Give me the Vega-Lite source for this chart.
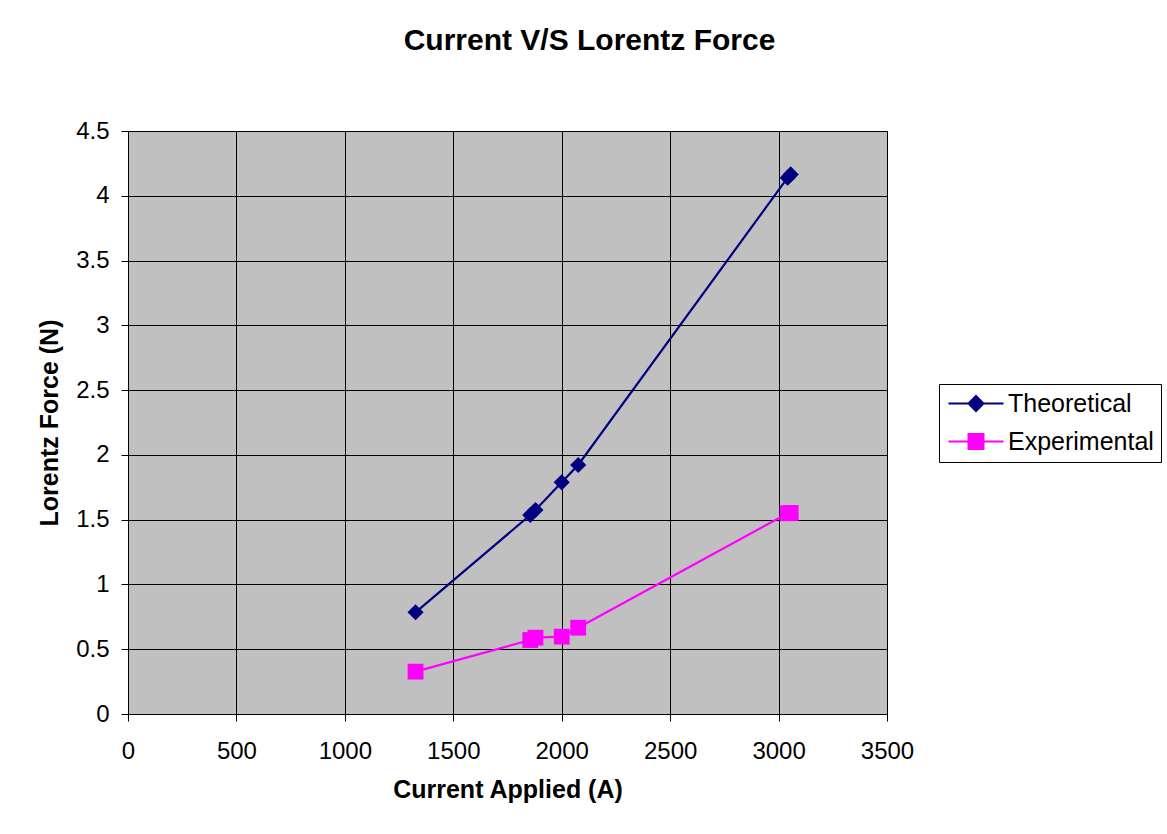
{
  "$schema": "https://vega.github.io/schema/vega-lite/v6.json",
  "width": 759,
  "height": 583,
  "autosize": "none",
  "padding": {"left": 128, "top": 131, "right": 280, "bottom": 120},
  "background": "white",
  "title": {
    "text": "Current V/S Lorentz Force",
    "anchor": "middle",
    "frame": "group",
    "dx": 82,
    "offset": 39,
    "baseline": "alphabetic",
    "font": "Liberation Sans",
    "fontSize": 30,
    "fontWeight": "bold",
    "color": "black"
  },
  "config": {
    "view": {"fill": "#C0C0C0", "stroke": "black", "strokeWidth": 1},
    "axis": {
      "domainColor": "black",
      "domainWidth": 1,
      "gridColor": "black",
      "gridOpacity": 1,
      "gridWidth": 1,
      "tickColor": "black",
      "tickSize": 7,
      "tickWidth": 1,
      "labelFont": "Liberation Sans",
      "labelFontSize": 24,
      "labelColor": "black",
      "titleFont": "Liberation Sans",
      "titleFontSize": 25,
      "titleFontWeight": "bold",
      "titleColor": "black"
    }
  },
  "data": {
    "values": [
      {"series": "Theoretical", "current": 1326, "force": 0.785},
      {"series": "Theoretical", "current": 1855, "force": 1.536},
      {"series": "Theoretical", "current": 1879, "force": 1.575},
      {"series": "Theoretical", "current": 2000, "force": 1.788},
      {"series": "Theoretical", "current": 2076, "force": 1.922},
      {"series": "Theoretical", "current": 3042, "force": 4.14},
      {"series": "Theoretical", "current": 3056, "force": 4.165},
      {"series": "Experimental", "current": 1326, "force": 0.327},
      {"series": "Experimental", "current": 1855, "force": 0.571},
      {"series": "Experimental", "current": 1879, "force": 0.589},
      {"series": "Experimental", "current": 2000, "force": 0.597},
      {"series": "Experimental", "current": 2076, "force": 0.666},
      {"series": "Experimental", "current": 3042, "force": 1.549},
      {"series": "Experimental", "current": 3056, "force": 1.552}
    ]
  },
  "encoding": {
    "x": {
      "field": "current",
      "type": "quantitative",
      "scale": {"domain": [0, 3500], "nice": false, "zero": true},
      "axis": {
        "title": "Current Applied (A)",
        "values": [0, 500, 1000, 1500, 2000, 2500, 3000, 3500],
        "format": "d",
        "labelPadding": 18,
        "titlePadding": 14,
        "labelFlush": false
      }
    },
    "y": {
      "field": "force",
      "type": "quantitative",
      "scale": {"domain": [0, 4.5], "nice": false},
      "axis": {
        "title": "Lorentz Force (N)",
        "values": [0, 0.5, 1, 1.5, 2, 2.5, 3, 3.5, 4, 4.5],
        "format": ".1~f",
        "labelPadding": 12,
        "titlePadding": 13,
        "labelFlush": false
      }
    },
    "color": {
      "field": "series",
      "type": "nominal",
      "scale": {"domain": ["Theoretical", "Experimental"], "range": ["#000080", "#FF00FF"]},
      "legend": {
        "title": null,
        "orient": "none",
        "legendX": 811,
        "legendY": 253,
        "strokeColor": "black",
        "fillColor": "white",
        "padding": 7,
        "symbolSize": 400,
        "symbolStrokeWidth": 2,
        "labelFont": "Liberation Sans",
        "labelFontSize": 25,
        "labelColor": "black",
        "labelOffset": 37,
        "rowPadding": 12,
        "encode": {
          "symbols": {
            "update": {
              "shape": {"signal": "datum.value === 'Theoretical' ? 'M-1,0H4.5M1.75,-0.75L2.5,0L1.75,0.75L1,0Z' : 'M-1,0H4.5M1,-0.75H2.5V0.75H1Z'"},
              "fill": {"signal": "datum.value === 'Theoretical' ? '#000080' : '#FF00FF'"},
              "stroke": {"signal": "datum.value === 'Theoretical' ? '#000080' : '#FF00FF'"},
              "strokeWidth": {"value": 2},
              "opacity": {"value": 1},
              "fillOpacity": {"value": 1}
            }
          }
        }
      }
    }
  },
  "layer": [
    {
      "mark": {"type": "line", "strokeWidth": 2.2},
      "encoding": {"order": {"field": "current", "type": "quantitative"}}
    },
    {
      "transform": [{"filter": "datum.series === 'Theoretical'"}],
      "mark": {"type": "point", "shape": "diamond", "filled": true, "opacity": 1, "size": 260}
    },
    {
      "transform": [{"filter": "datum.series === 'Experimental'"}],
      "mark": {"type": "point", "shape": "square", "filled": true, "opacity": 1, "size": 250}
    }
  ]
}
